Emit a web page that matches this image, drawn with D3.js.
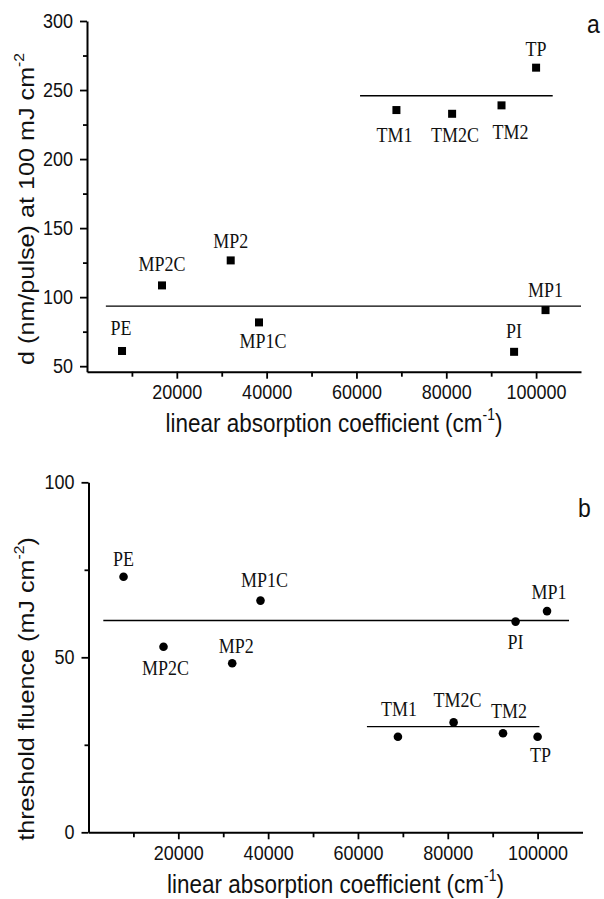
<!DOCTYPE html>
<html><head><meta charset="utf-8">
<script src="https://cdn.jsdelivr.net/npm/d3@7"></script>
<style>body{margin:0;background:#fff}svg{display:block}</style>
</head><body>
<svg id="c" width="604" height="899"></svg>
<script>
// ---- data ----
const names = ["PE","MP2C","MP2","MP1C","TM1","TM2C","TM2","TP","PI","MP1"];
const absorption = [7800,16700,32000,38300,68900,81300,92300,100000,95100,102100];
const etchDepth = [61,108.5,126.6,81.7,235.5,232.8,238.9,266.2,60.4,90.6];
const thresholdFluence = [73,53,48.3,66.2,27.3,31.4,28.3,27.3,60.2,63.2];
const fitLevelA = [93.5,245.9];
const fitFromA = [4200,60800];
const fitToA = [110000,103700];
const fitLevelB = [60.5,30.2];
const fitFromB = [3300,62000];
const fitToB = [107000,100400];
const xTicks = [20000,40000,60000,80000,100000];
const xMinor = [10000,30000,50000,70000,90000];
const yTicksA = [50,100,150,200,250,300];
const yMinorA = [75,125,175,225,275];
const yTicksB = [0,50,100];
const yMinorB = [25,75];

// ---- layout (label offsets from point, px) ----
const labDxA = [-1,0,0,4,-2,3,9,0,0,0];
const labDyA = [-16,-14,-12.5,25.5,31.5,28,34,-11.5,-13.5,-13.5];
const labDxB = [0,2,4,4,1,4,6,3,0,2];
const labDyB = [-11,28,-10.5,-13.5,-20.5,-15,-15,25,27,-12];

const svg = d3.select("#c");
const SY = 1.12;
const sans = "'Liberation Sans', Arial, Helvetica, sans-serif";
const serif = "'Liberation Serif', 'Times New Roman', serif";

function panel(cfg) {
  const x = d3.scaleLinear().domain([0,110000]).range(cfg.xr);
  const y = d3.scaleLinear().domain(cfg.yd).range(cfg.yr);
  const g = svg.append("g");
  const x0 = cfg.xr[0], yb = cfg.yr[0];

  // minor ticks
  g.append("g").attr("transform",`translate(0,${yb})`)
    .call(d3.axisBottom(x).tickValues(xMinor).tickSize(5).tickFormat(""))
    .call(s=>s.select(".domain").remove());
  g.append("g").attr("transform",`translate(${x0},0)`)
    .call(d3.axisLeft(y).tickValues(cfg.yMinor).tickSize(4).tickFormat(""))
    .call(s=>s.select(".domain").remove());

  // major axes
  const xa = g.append("g").attr("transform",`translate(0,${yb})`)
    .call(d3.axisBottom(x).tickValues(xTicks).tickSize(7).tickSizeOuter(0).tickPadding(5).tickFormat(d3.format("d")));
  const ya = g.append("g").attr("transform",`translate(${x0},0)`)
    .call(d3.axisLeft(y).tickValues(cfg.yTicks).tickSize(7).tickSizeOuter(0).tickPadding(7).tickFormat(d3.format("d")));
  [xa,ya].forEach(a=>{
    a.select(".domain").attr("stroke","#000").attr("stroke-width",2);
    a.selectAll(".tick line").attr("stroke","#000").attr("stroke-width",1.8);
    a.selectAll("text").attr("font-family",sans).attr("font-size",18).attr("fill","#111")
      .attr("transform",`scale(1,${SY})`);
  });
  g.selectAll(".tick line").attr("stroke","#000").attr("stroke-width",1.8);

  // fit lines
  g.selectAll("line.fit").data(cfg.fitLevel).join("line").attr("class","fit")
    .attr("x1",(d,i)=>x(cfg.fitFrom[i])).attr("x2",(d,i)=>x(cfg.fitTo[i]))
    .attr("y1",d=>y(d)).attr("y2",d=>y(d))
    .attr("stroke","#000").attr("stroke-width",1.4);

  // markers
  if (cfg.square) {
    g.selectAll("rect.pt").data(cfg.vals).join("rect").attr("class","pt")
      .attr("x",(d,i)=>x(absorption[i])-4).attr("y",d=>y(d)-4)
      .attr("width",8).attr("height",8).attr("fill","#000");
  } else {
    g.selectAll("circle.pt").data(cfg.vals).join("circle").attr("class","pt")
      .attr("cx",(d,i)=>x(absorption[i])).attr("cy",d=>y(d))
      .attr("r",4.3).attr("fill","#000");
  }

  // point labels
  g.selectAll("text.lab").data(names).join("text").attr("class","lab")
    .attr("transform",(d,i)=>`translate(${x(absorption[i])+cfg.dx[i]},${y(cfg.vals[i])+cfg.dy[i]}) scale(1,${SY})`)
    .attr("text-anchor","middle").attr("font-family",serif).attr("font-size",18).attr("fill","#111")
    .text(d=>d);

  // x title
  const xt = g.append("text")
    .attr("transform",`translate(${(cfg.xr[0]+cfg.xr[1])/2},${cfg.xTitleY}) scale(1,${SY})`)
    .attr("text-anchor","middle").attr("font-family",sans).attr("font-size",22.5).attr("fill","#111");
  xt.append("tspan").text("linear absorption coefficient (cm");
  xt.append("tspan").attr("font-size","0.62em").attr("dy","-0.75em").text("-1");
  xt.append("tspan").attr("dy","0.47em").text(")");

  // y title
  const yt = g.append("text")
    .attr("transform",`translate(${cfg.yTitleX},${cfg.yTitleY}) rotate(-90) scale(${SY},1)`)
    .attr("text-anchor","middle").attr("font-family",sans).attr("font-size",22.5).attr("fill","#111");
  cfg.yTitle(yt);

  // panel letter
  g.append("text").attr("transform",`translate(${cfg.letterX},${cfg.letterY}) scale(1,${SY})`)
    .attr("font-family",sans).attr("font-size",23).attr("fill","#111").text(cfg.letter);
}

panel({
  xr:[87,581], yd:[46,300], yr:[371.7,21],
  yTicks:yTicksA, yMinor:yMinorA, vals:etchDepth, square:true,
  fitLevel:fitLevelA, fitFrom:fitFromA, fitTo:fitToA,
  dx:labDxA, dy:labDyA,
  xTitleY:432, yTitleX:34, yTitleY:209,
  yTitle:t=>{
    t.append("tspan").text("d (nm/pulse) at 100 mJ cm");
    t.append("tspan").attr("font-size","0.62em").attr("dy","-0.75em").text("-2");
  },
  letter:"a", letterX:587, letterY:33
});

panel({
  xr:[88.5,582.5], yd:[0,100], yr:[832.3,482.3],
  yTicks:yTicksB, yMinor:yMinorB, vals:thresholdFluence, square:false,
  fitLevel:fitLevelB, fitFrom:fitFromB, fitTo:fitToB,
  dx:labDxB, dy:labDyB,
  xTitleY:893, yTitleX:34, yTitleY:689,
  yTitle:t=>{
    t.append("tspan").text("threshold fluence (mJ cm");
    t.append("tspan").attr("font-size","0.62em").attr("dy","-0.75em").text("-2");
    t.append("tspan").attr("dy","0.47em").text(")");
  },
  letter:"b", letterX:578, letterY:517
});
</script>
</body></html>
